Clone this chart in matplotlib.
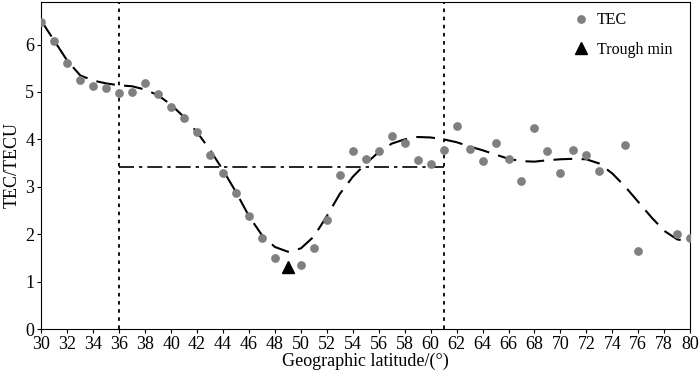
import numpy as np
import matplotlib
matplotlib.use("Agg")
import matplotlib.pyplot as plt

plt.rcParams['font.family'] = ['Liberation Serif', 'DejaVu Serif']

# TEC observations (lat, value)
tec_lat = [30, 31, 32, 33, 34, 35, 36, 37, 38, 39, 40, 41, 42, 43, 44, 45,
           46, 47, 48, 50, 51, 52, 53, 54, 55, 56, 57, 58, 59, 60, 61,
           62, 63, 64, 65, 66, 67, 68, 69, 70, 71, 72, 73, 75, 76, 79, 80]
tec_val = [6.48, 6.07, 5.61, 5.26, 5.12, 5.09, 4.97, 4.99, 5.19, 4.95, 4.69, 4.46, 4.15, 3.68, 3.28, 2.86,
           2.39, 1.92, 1.49, 1.34, 1.71, 2.30, 3.24, 3.75, 3.58, 3.75, 4.08, 3.93, 3.57, 3.47, 3.77,
           4.29, 3.80, 3.54, 3.92, 3.59, 3.12, 4.25, 3.76, 3.28, 3.77, 3.66, 3.34, 3.89, 1.65, 2.00, 1.91]

# fitted curve, one value per degree
fit_lat = list(range(30, 81))
fit_val = [6.50, 6.08, 5.66, 5.35, 5.24, 5.18, 5.14, 5.12, 5.05, 4.93,
           4.73, 4.47, 4.15, 3.78, 3.35, 2.89, 2.38, 1.98, 1.73, 1.63,
           1.70, 1.95, 2.38, 2.85, 3.21, 3.49, 3.73, 3.91, 4.00, 4.05,
           4.04, 4.00, 3.94, 3.85, 3.77, 3.68, 3.59, 3.54, 3.53, 3.56,
           3.58, 3.59, 3.58, 3.49, 3.28, 3.00, 2.68, 2.36, 2.07, 1.89, 1.84]

trough_lat = 49
trough_val = 1.30
bound_lat = [36, 61]
mean_level = 3.42

fig = plt.figure(figsize=(7, 3.76), dpi=100)
ax = fig.add_axes([0.059, 0.125, 0.927, 0.87])

ax.plot(fit_lat, fit_val, color='black', lw=1.5, ls=(0, (9, 4.5)), zorder=2)
ax.plot(tec_lat, tec_val, 'o', color='#808080', ms=6.3, mec='none', label='TEC', zorder=3)
ax.plot([trough_lat], [trough_val], '^', color='black', ms=8, label='Trough min', zorder=4)
for b in bound_lat:
    ax.axvline(b, color='black', lw=1.3, ls=(0, (2, 2.5)), zorder=1)
ax.plot(bound_lat, [mean_level, mean_level], color='black', lw=1.2, ls=(0, (9, 3, 2, 3)), zorder=1)

ax.set_xlim(30, 80)
ax.set_ylim(0, 6.9)
ax.set_xticks(range(30, 81, 2))
ax.set_yticks(range(0, 7))
ax.tick_params(direction='out', length=3, labelsize=13, pad=2)
ax.set_xlabel('Geographic latitude/(°)', fontsize=13, labelpad=0)
ax.set_ylabel('TEC/TECU', fontsize=13, labelpad=3)

ax.legend(loc='upper right', bbox_to_anchor=(0.982, 0.988), frameon=False,
          fontsize=11.5, handletextpad=0.45, borderaxespad=0, labelspacing=0.85,
          handlelength=1.0)

fig.savefig('out.png', dpi=100)
